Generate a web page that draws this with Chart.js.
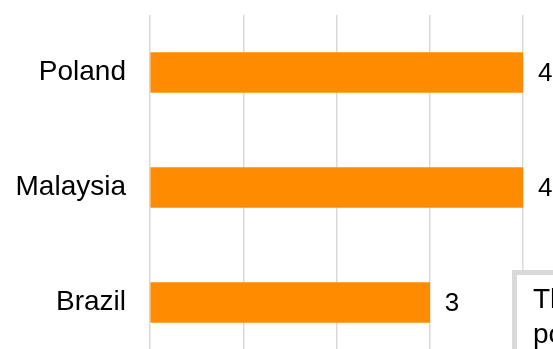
<!DOCTYPE html>
<html>
<head>
<meta charset="utf-8">
<script src="https://cdn.jsdelivr.net/npm/chart.js@4"></script>
<style>
  body { margin: 0; overflow: hidden; background: #fff; }
  #wrap { width: 553px; height: 360px; position: relative; }
</style>
</head>
<body>
<div id="wrap"><canvas id="myChart"></canvas></div>
<script>
'use strict'
let countries = ['Poland', 'Malaysia', 'Brazil'];
let counts = [4, 4, 3];
let xTicks = [0, 1, 2, 3, 4];
let noteLines = ['This chart shows', 'points per country'];

let barColor = 'rgb(255, 140, 0)';
let gridColor = '#d9d9d9';

// value labels at the end of each bar
let valueLabels = {
    id: 'valueLabels',
    afterDatasetsDraw(chart) {
        let ctx = chart.ctx;
        let meta = chart.getDatasetMeta(0);
        ctx.save();
        ctx.fillStyle = '#000';
        ctx.font = '26px "Liberation Sans", Arial, sans-serif';
        ctx.textAlign = 'left';
        ctx.textBaseline = 'middle';
        meta.data.forEach(function (bar, i) {
            ctx.fillText(String(counts[i]), bar.x + 15, bar.y + 1);
        });
        ctx.restore();
    }
};

// the note box in the corner (mostly off the page)
let noteBox = {
    id: 'noteBox',
    afterDraw(chart) {
        let ctx = chart.ctx;
        ctx.save();
        ctx.fillStyle = '#fff';
        ctx.fillRect(512, 270, 300, 200);
        ctx.strokeStyle = gridColor;
        ctx.lineWidth = 5;
        ctx.strokeRect(514.5, 272.5, 300, 200);
        ctx.fillStyle = '#000';
        ctx.font = '28px "Liberation Sans", Arial, sans-serif';
        ctx.textAlign = 'left';
        ctx.textBaseline = 'alphabetic';
        for (let i = 0; i < noteLines.length; i++) {
            ctx.fillText(noteLines[i], 533, 308 + i * 35);
        }
        ctx.restore();
    }
};

let ctx = document.getElementById('myChart').getContext('2d');
let myChart = new Chart(ctx, {
    type: 'bar',
    data: {
        labels: countries,
        datasets: [{
            data: counts,
            backgroundColor: barColor,
            borderWidth: 0,
            barThickness: 40
        }]
    },
    options: {
        indexAxis: 'y',
        responsive: true,
        maintainAspectRatio: false,
        animation: false,
        layout: { padding: { top: 15, right: 30, bottom: 0, left: 0 } },
        plugins: {
            legend: { display: false },
            tooltip: { enabled: false }
        },
        scales: {
            x: {
                min: xTicks[0],
                max: xTicks[xTicks.length - 1],
                afterBuildTicks: function (scale) {
                    scale.ticks = xTicks.map(function (v) { return { value: v }; });
                },
                ticks: { display: false },
                grid: { color: gridColor, lineWidth: 1.5, drawTicks: false },
                border: { display: false }
            },
            y: {
                afterFit: function (scale) {
                    scale.width = 150;
                    // the tick padding should not push the plot down
                    scale.paddingTop = 0;
                    scale.paddingBottom = 0;
                },
                ticks: {
                    color: '#000',
                    padding: 24,
                    font: { family: '"Liberation Sans", Arial, sans-serif', size: 28 }
                },
                grid: { display: false, drawTicks: false },
                border: { display: false }
            }
        }
    },
    plugins: [valueLabels, noteBox]
});
</script>
</body>
</html>
